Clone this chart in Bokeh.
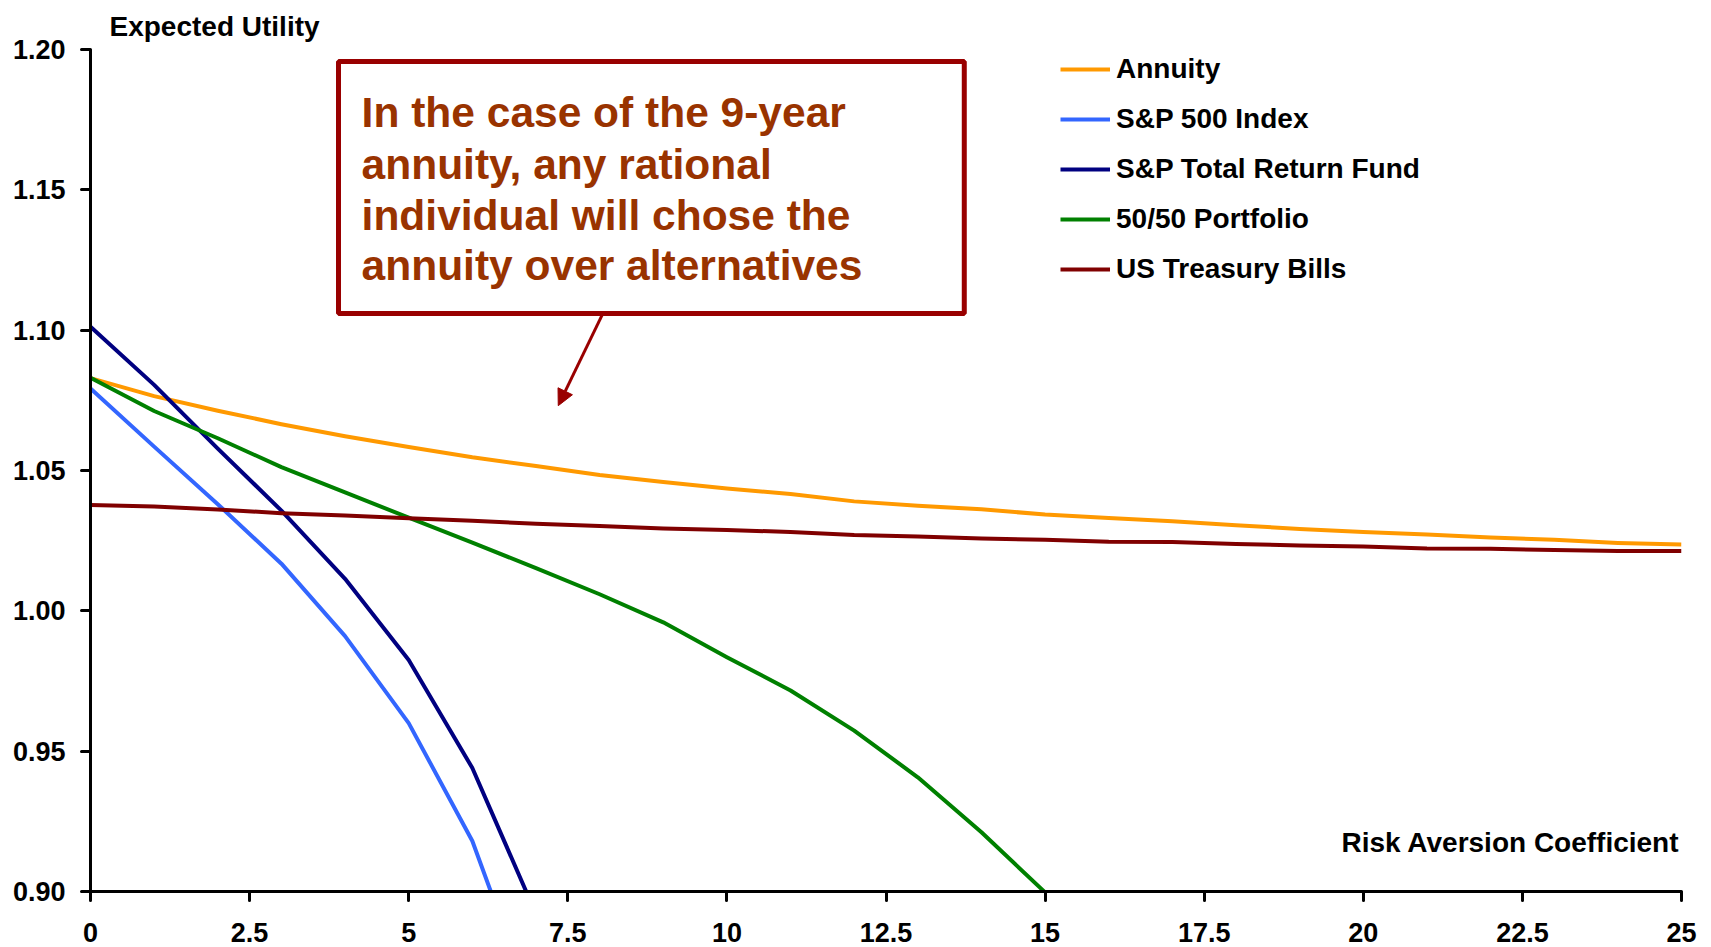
from bokeh.plotting import figure
from bokeh.models import (Range1d, FixedTicker, Legend, LegendItem, Label,
                          BoxAnnotation, Arrow, NormalHead)
from bokeh.embed import file_html
from bokeh.resources import INLINE

# ---------------- data ----------------
risk_aversion = list(range(26))
annuity = [1.0829, 1.0765, 1.0713, 1.0665, 1.0622, 1.0584, 1.0547, 1.0516, 1.0484, 1.0459,
           1.0436, 1.0416, 1.0390, 1.0374, 1.0362, 1.0343, 1.0331, 1.0319, 1.0305, 1.0292,
           1.0281, 1.0272, 1.0261, 1.0253, 1.0242, 1.0236]
sp500_x = [0, 1, 2, 3, 4, 5, 6, 7]
sp500 = [1.0792, 1.0585, 1.0380, 1.0168, 0.9910, 0.9600, 0.9180, 0.8560]
sp_total_x = [0, 1, 2, 3, 4, 5, 6, 7]
sp_total = [1.1012, 1.0805, 1.0578, 1.0357, 1.0114, 0.9825, 0.9440, 0.8920]
portfolio_x = list(range(16))
portfolio = [1.0830, 1.0712, 1.0615, 1.0512, 1.0422, 1.0332, 1.0243, 1.0152, 1.0059, 0.9959,
             0.9835, 0.9716, 0.9573, 0.9407, 0.9211, 0.8997]
tbills = [1.0377, 1.0372, 1.0361, 1.0348, 1.0340, 1.0330, 1.0321, 1.0310, 1.0302, 1.0293,
          1.0288, 1.0281, 1.0270, 1.0265, 1.0258, 1.0253, 1.0246, 1.0245, 1.0238, 1.0233,
          1.0229, 1.0222, 1.0221, 1.0217, 1.0213, 1.0213]

series_names = ["Annuity", "S&P 500 Index", "S&P Total Return Fund", "50/50 Portfolio",
                "US Treasury Bills"]
x_ticks = [0, 2.5, 5, 7.5, 10, 12.5, 15, 17.5, 20, 22.5, 25]
x_tick_labels = ["0", "2.5", "5", "7.5", "10", "12.5", "15", "17.5", "20", "22.5", "25"]
y_ticks = [0.90, 0.95, 1.00, 1.05, 1.10, 1.15, 1.20]
y_tick_labels = ["0.90", "0.95", "1.00", "1.05", "1.10", "1.15", "1.20"]
callout_lines = ["In the case of the 9-year", "annuity, any rational",
                 "individual will chose the", "annuity over alternatives"]
y_title = "Expected Utility"
x_title = "Risk Aversion Coefficient"

# ---------------- styling ----------------
FONT = "Liberation Sans"
colors = ["#FF9900", "#3366FF", "#000080", "#008000", "#800000"]

p = figure(width=1711, height=947, output_backend="svg", toolbar_location=None,
           x_range=Range1d(0, 25), y_range=Range1d(0.90, 1.20),
           min_border_left=90, min_border_right=30, min_border_top=49, min_border_bottom=56,
           title=y_title)
p.title.align = "left"
p.title.offset = 19
p.title.text_font = FONT
p.title.text_font_style = "bold"
p.title.text_font_size = "28px"
p.title.text_color = "black"
p.title.text_line_height = 0.9
p.title.standoff = 16
p.outline_line_color = None
p.grid.visible = False
p.background_fill_color = "white"
p.border_fill_color = "white"

for ax in (p.xaxis[0], p.yaxis[0]):
    ax.axis_line_width = 3
    ax.axis_line_color = "black"
    ax.major_tick_line_width = 3
    ax.major_tick_line_cap = "round"
    ax.major_tick_in = 0
    ax.major_tick_out = 9
    ax.minor_tick_line_color = None
    ax.major_label_text_font = FONT
    ax.major_label_text_font_style = "bold"
    ax.major_label_text_font_size = "27px"
    ax.major_label_text_color = "black"

p.xaxis.ticker = FixedTicker(ticks=x_ticks)
p.xaxis.major_label_overrides = {(int(v) if float(v).is_integer() else v): s
                                 for v, s in zip(x_ticks, x_tick_labels)}
p.xaxis.major_label_standoff = 22
p.xaxis.major_label_text_line_height = 0.9
p.yaxis.ticker = FixedTicker(ticks=y_ticks)
p.yaxis.major_label_overrides = {v: s for v, s in zip(y_ticks, y_tick_labels)}
p.yaxis.major_label_standoff = 16

# ---------------- lines ----------------
xs = [risk_aversion, sp500_x, sp_total_x, portfolio_x, risk_aversion]
ys = [annuity, sp500, sp_total, portfolio, tbills]
renderers = []
for x, y, c in zip(xs, ys, colors):
    renderers.append(p.line(x, y, line_color=c, line_width=4, line_join="round"))

legend = Legend(items=[LegendItem(label=n, renderers=[r]) for n, r in zip(series_names, renderers)],
                location=(970, 606), orientation="vertical",
                glyph_width=50, glyph_height=30, label_height=30, label_standoff=6,
                spacing=18, padding=0, margin=0,
                border_line_color=None, background_fill_alpha=0,
                label_text_font=FONT, label_text_font_style="bold",
                label_text_font_size="28px", label_text_color="black")
p.add_layout(legend)

# ---------------- annotations ----------------
p.add_layout(BoxAnnotation(left=3.897, right=13.73, top=1.1957, bottom=1.1059,
                           fill_color="white", fill_alpha=1.0,
                           line_color="#990000", line_alpha=1.0, line_width=5))
line_y = [1.1776, 1.1590, 1.1408, 1.1230]
for txt, yy in zip(callout_lines, line_y):
    p.add_layout(Label(x=4.26, y=yy, text=txt, text_font=FONT, text_font_style="bold",
                       text_font_size="42.5px", text_color="#993300",
                       text_align="left", text_baseline="middle"))

p.add_layout(Arrow(end=NormalHead(size=16, fill_color="#990000", line_color="#990000"),
                   x_start=8.05, y_start=1.1059, x_end=7.35, y_end=1.0731,
                   line_color="#990000", line_width=3))

p.add_layout(Label(x=24.97, y=0.9174, text=x_title, text_font=FONT, text_font_style="bold",
                   text_font_size="28px", text_color="black",
                   text_align="right", text_baseline="middle"))

open("out.html", "w").write(file_html(p, INLINE))
